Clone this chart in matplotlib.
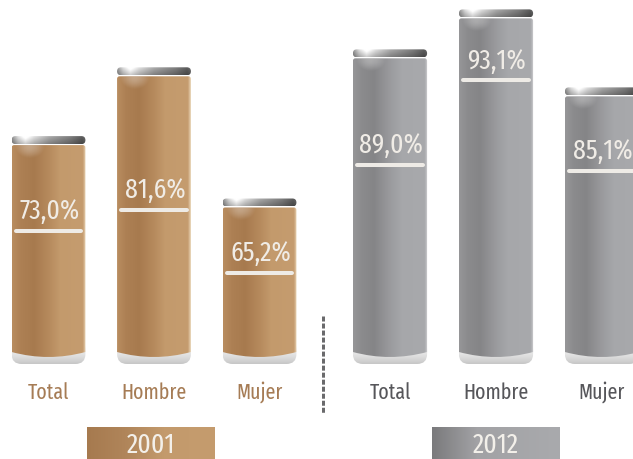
import matplotlib
matplotlib.use("Agg")
import matplotlib.pyplot as plt
import numpy as np
from matplotlib.colors import LinearSegmentedColormap
from matplotlib.lines import Line2D
from matplotlib.patches import FancyBboxPatch, PathPatch
from matplotlib.path import Path
from matplotlib.transforms import Affine2D

# data
categories = ["Total", "Hombre", "Mujer"]
years = ["2001", "2012"]
values_2001 = [73.0, 81.6, 65.2]
values_2012 = [89.0, 93.1, 85.1]

W, H = 633, 459
fig = plt.figure(figsize=(W / 100, H / 100), dpi=100)
pix = Affine2D().scale(1, -1).translate(0, H)  # pixel rows from the top -> display

FONT = ["Fira Sans Extra Condensed", "DejaVu Sans"]


def grad(stops, n=256):
    cmap = LinearSegmentedColormap.from_list("g", stops)
    return cmap(np.linspace(0, 1, n))[:, :3]


def to_pix(ax, x, y):
    dx, dy = ax.transData.transform((x, y))
    return dx, H - dy


def fill(ax, patch, img, extent):
    patch.set_transform(pix)
    patch.set_facecolor("none")
    patch.set_edgecolor("none")
    ax.add_patch(patch)
    im = ax.imshow(img, extent=extent, transform=pix, aspect="auto",
                   interpolation="bilinear")
    im.set_clip_path(patch)
    return im


def draw_can(ax, rect, stops):
    x0, base = rect.get_x(), rect.get_y()
    L, T = to_pix(ax, x0, base + rect.get_height())
    R, B = to_pix(ax, x0 + rect.get_width(), base)
    w = R - L
    tb = T + 9  # body top under the cap

    # light base
    bp = FancyBboxPatch((L, B - 12), w, 24, boxstyle="round,pad=0,rounding_size=10")
    vb = np.linspace(0, 1, 32)
    base_img = np.ones((32, 2, 3)) * (0.95 - 0.17 * vb ** 2)[:, None, None]
    fill(ax, bp, base_img, (L, R, B + 12, B - 12))

    # body with curved bottom
    r = 2.5
    dip = 5
    verts = [(L, B), (L, tb + r), (L, tb), (L + r, tb), (R - r, tb), (R, tb),
             (R, tb + r), (R, B), ((L + R) / 2, B + 2 * dip), (L, B), (L, B)]
    codes = [Path.MOVETO, Path.LINETO, Path.CURVE3, Path.CURVE3, Path.LINETO,
             Path.CURVE3, Path.CURVE3, Path.LINETO, Path.CURVE3, Path.CURVE3,
             Path.CLOSEPOLY]
    body = PathPatch(Path(verts, codes))
    fill(ax, body, grad(stops)[None, :, :], (L, R, B + 2 * dip, tb))

    # soft glow under the cap
    gx, gy = np.meshgrid(np.linspace(-1, 1, 48), np.linspace(-1, 1, 48))
    glow = np.zeros((48, 48, 4))
    glow[..., :3] = 1
    glow[..., 3] = 0.32 * np.clip(1 - (gx ** 2 + gy ** 2), 0, 1) ** 1.5
    im = ax.imshow(glow, extent=(L + 2, L + 34, tb + 14, tb - 12), transform=pix,
                   aspect="auto", interpolation="bilinear")
    im.set_clip_path(body)

    # cap
    cap = FancyBboxPatch((L, T), w, 8, boxstyle="round,pad=0,rounding_size=4")
    hc = grad([(0, "#8c8c8c"), (0.08, "#cfcfcf"), (0.18, "#ffffff"), (0.3, "#d2d2d2"),
               (0.5, "#a0a0a0"), (0.8, "#767676"), (0.95, "#575757"), (1, "#666666")])
    vc = np.linspace(1.08, 0.8, 16)
    cap_img = np.clip(hc[None, :, :] * vc[:, None, None], 0, 1)
    fill(ax, cap, cap_img, (L, R, T + 8, T))
    return L, R


groups = [
    dict(values=values_2001, ylim=(32.64, 90.01), rect=[0, 0, 316 / W, 1],
         xlim=(-48.5 / 105.5, 267.5 / 105.5),
         body=[(0, "#b98d60"), (0.12, "#ad8054"), (0.3, "#a77a4e"), (0.5, "#b68a5d"),
               (0.65, "#c39a6c"), (0.96, "#c59c6f"), (1.0, "#ead6b8")],
         box=[(0, "#a67a4f"), (0.3, "#b0855a"), (0.6, "#c39a6c"), (1, "#c59c6e")],
         label_color="#a67c55", line_rows=[231, 209.5, 273], box_shift=-3),
    dict(values=values_2012, ylim=(46.98, 94.06), rect=[316 / W, 0, 317 / W, 1],
         xlim=(-74 / 106, 243 / 106),
         body=[(0, "#969698"), (0.12, "#8b8b8d"), (0.28, "#858587"), (0.5, "#9b9b9e"),
               (0.65, "#a6a7aa"), (0.96, "#a8a9ac"), (1.0, "#d4d4d6")],
         box=[(0, "#7a7a7c"), (0.35, "#a2a2a5"), (1, "#a9aaad")],
         label_color="#56565a", line_rows=[164.5, 80, 170.5], box_shift=0),
]

for g, year in zip(groups, years):
    ax = fig.add_axes(g["rect"])
    ax.set_xlim(*g["xlim"])
    ax.set_ylim(*g["ylim"])
    ax.set_axis_off()
    # baseline of the cans sits at pixel row 352
    base = ax.transData.inverted().transform((0, H - 352))[1]
    xs = np.arange(len(categories))
    heights = [v - base for v in g["values"]]
    bars = ax.bar(xs, heights, bottom=base, width=0.70, alpha=0)

    centers = []
    for rect, val, row, cat in zip(bars, g["values"], g["line_rows"], categories):
        L, R = draw_can(ax, rect, g["body"])
        cx = (L + R) / 2
        centers.append(cx)
        ax.plot([L + 4, R - 4], [row, row], transform=pix, color="#eeebe6",
                lw=2.9, solid_capstyle="round")
        ax.text(cx + 1, row - 11.5, f"{val:.1f}%".replace(".", ","), transform=pix,
                ha="center", va="baseline", color="#f0ece6", fontsize=20,
                family=FONT)
        ax.text(cx, 399, cat, transform=pix, ha="center", va="baseline",
                color=g["label_color"], fontsize=15.5, family=FONT)

    # year box
    bc = centers[1] + g["box_shift"]
    box = FancyBboxPatch((bc - 64, 427), 128, 40, boxstyle="square,pad=0")
    fill(ax, box, grad(g["box"])[None, :, :], (bc - 64, bc + 64, 467, 427))
    ax.text(bc, 453, year, transform=pix, ha="center", va="baseline",
            color="#f3f0ea", fontsize=20, family=FONT)
    ax.set_xlim(*g["xlim"])
    ax.set_ylim(*g["ylim"])

# dotted separator
fig.add_artist(Line2D([323, 323], [316, 413], transform=pix, color="#6a6a6c",
                      lw=2.16, dashes=(1.67, 0.67)))

fig.savefig("out.png", dpi=100)
